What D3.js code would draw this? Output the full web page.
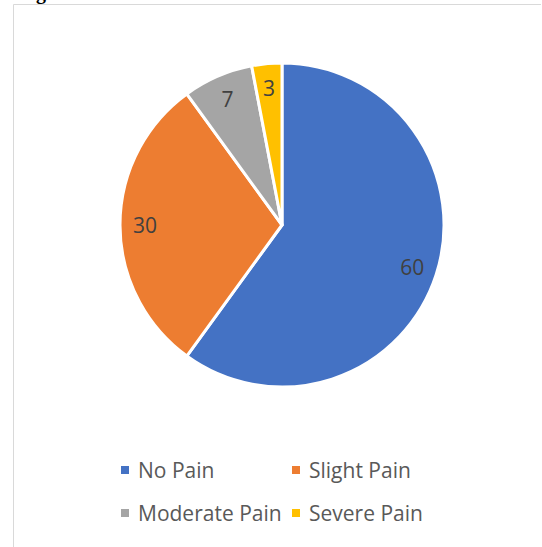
<!DOCTYPE html>
<html>
<head>
<meta charset="utf-8">
<script src="https://cdn.jsdelivr.net/npm/d3@7"></script>
<style>
  body { margin: 0; background: #fff; }
  svg { display: block; }
</style>
</head>
<body>
<svg id="chart" width="542" height="547"></svg>
<script>
// pain levels and counts
var categories = ["No Pain", "Slight Pain", "Moderate Pain", "Severe Pain"];
var values = [60, 30, 7, 3];
var colors = ["#4472C4", "#ED7D31", "#A5A5A5", "#FFC000"];

var svg = d3.select("#chart"),
    cx = 282, cy = 225,
    radius = 162;

// bit of the caption above that got cropped
svg.append("text")
    .attr("x", 36).attr("y", -1)
    .attr("font-family", "Liberation Serif")
    .attr("font-weight", "bold")
    .attr("font-size", 20)
    .attr("fill", "#000")
    .text("g");

// chart frame (left + top edges)
svg.append("path")
    .attr("d", "M13.5,547V4.5H541")
    .attr("fill", "none")
    .attr("stroke", "#d9d9d9")
    .attr("stroke-width", 1);

var data = categories.map(function (c, i) { return {name: c, value: values[i]}; });

var pie = d3.pie()
    .sort(null)
    .value(function (d) { return d.value; });

var arc = d3.arc().innerRadius(0).outerRadius(radius);
var labelArc = d3.arc().innerRadius(137).outerRadius(137);

var color = d3.scaleOrdinal().domain(categories).range(colors);

var g = svg.append("g")
    .attr("transform", "translate(" + cx + "," + cy + ")");

var arcs = pie(data);

g.selectAll("path.slice")
    .data(arcs)
    .enter().append("path")
    .attr("class", "slice")
    .attr("d", arc)
    .attr("fill", function (d) { return color(d.data.name); })
    .attr("stroke", "#fff")
    .attr("stroke-width", 3)
    .attr("stroke-linejoin", "round");

g.selectAll("text.lbl")
    .data(arcs)
    .enter().append("text")
    .attr("class", "lbl")
    .attr("transform", function (d) { return "translate(" + labelArc.centroid(d) + ")"; })
    .attr("dy", "0.36em")
    .attr("text-anchor", "middle")
    .attr("font-family", "Open Sans")
    .attr("font-size", 21)
    .attr("fill", "#404040")
    .text(function (d) { return d.data.value; });

// legend, 2 x 2
var legX = d3.scaleOrdinal().domain([0, 1]).range([121, 292]);
var legY = d3.scaleOrdinal().domain([0, 1]).range([470, 513]);

var leg = svg.selectAll("g.leg")
    .data(categories)
    .enter().append("g")
    .attr("class", "leg")
    .attr("transform", function (d, i) {
        return "translate(" + legX(i % 2) + "," + legY(Math.floor(i / 2)) + ")";
    });

leg.append("rect")
    .attr("x", 0).attr("y", -4)
    .attr("width", 8).attr("height", 8)
    .attr("fill", function (d) { return color(d); });

leg.append("text")
    .attr("x", 17)
    .attr("y", 0)
    .attr("dy", "0.36em")
    .attr("font-family", "Open Sans")
    .attr("font-size", 21)
    .attr("fill", "#595959")
    .text(function (d) { return d; });
</script>
</body>
</html>
